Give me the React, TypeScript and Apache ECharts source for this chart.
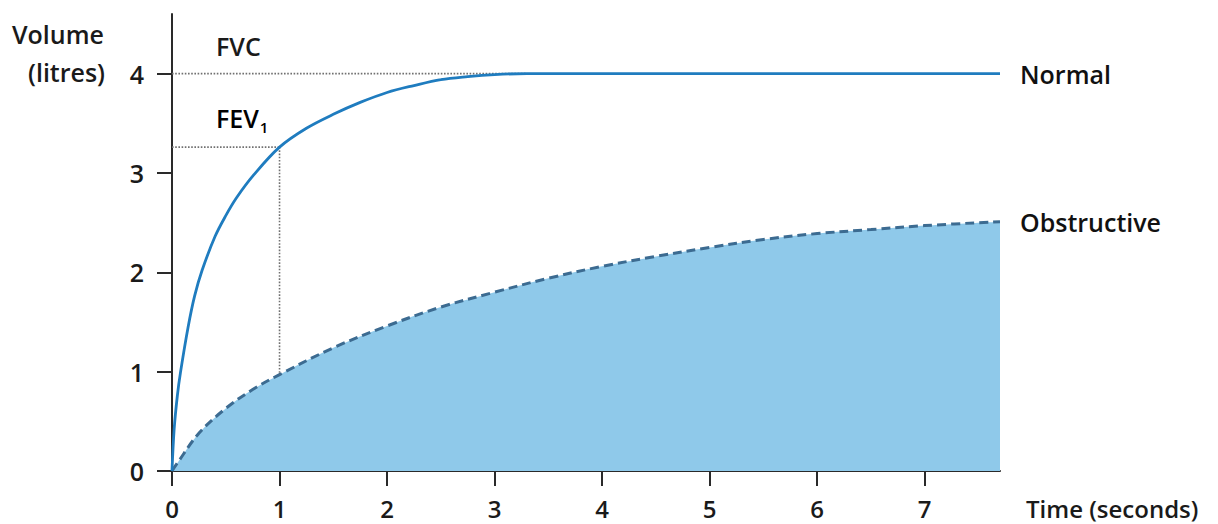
import React, { useEffect, useRef } from "react";
import * as echarts from "echarts";

const normalCurve: [number, number][] = [
  [0, 0], [0.02, 0.42], [0.05, 0.76], [0.08, 1.0], [0.15, 1.45], [0.21, 1.76],
  [0.28, 2.02], [0.4, 2.36], [0.5, 2.57], [0.6, 2.75], [0.76, 2.98], [1, 3.26],
  [1.25, 3.45], [1.5, 3.59], [1.75, 3.71], [2, 3.81], [2.25, 3.88], [2.5, 3.94],
  [2.75, 3.97], [3, 3.99], [3.3, 4], [4, 4], [5, 4], [6, 4], [7, 4], [7.7, 4],
];

const obstructiveCurve: [number, number][] = [
  [0, 0], [0.05, 0.08], [0.25, 0.38], [0.5, 0.63], [0.75, 0.82], [1, 0.97],
  [1.5, 1.24], [2, 1.46], [2.5, 1.65], [3, 1.8], [3.5, 1.94], [4, 2.06],
  [4.5, 2.16], [5, 2.25], [5.5, 2.33], [6, 2.39], [6.5, 2.43], [7, 2.47],
  [7.7, 2.51],
];

const fvcGuide: [number, number][] = [[0, 4], [3.3, 4]];
const fev1Horizontal: [number, number][] = [[0, 3.26], [1, 3.26]];
const fev1Vertical: [number, number][] = [[1, 3.26], [1, 0.97]];

const xTicks = [0, 1, 2, 3, 4, 5, 6, 7];
const yTicks = [0, 1, 2, 3, 4];
const xMax = 7.7;
const yMax = 4.6;

const FONT = "'Open Sans', 'Noto Sans', sans-serif";

export default function App() {
  const ref = useRef<HTMLDivElement>(null);

  useEffect(() => {
    if (!ref.current) return;
    const chart = echarts.init(ref.current, undefined, { renderer: "svg" });
    const axisColor = "#2a2a2a";
    const labelStyle = {
      fontFamily: FONT,
      fontWeight: 600 as any,
      fontSize: 25,
      color: "#1a1a1a",
    };
    const guideStyle = { color: "#707070", width: 1.6, type: "dotted" as const };

    chart.setOption({
      animation: false,
      backgroundColor: "#ffffff",
      grid: { left: 172, right: 218, top: 14, bottom: 53, containLabel: false },
      xAxis: {
        type: "value",
        min: 0,
        max: xMax,
        axisLine: { show: true, lineStyle: { color: axisColor, width: 2 } },
        axisTick: {
          show: true,
          customValues: xTicks,
          length: 15,
          lineStyle: { color: axisColor, width: 2 },
        },
        axisLabel: {
          ...labelStyle,
          fontSize: 24,
          lineHeight: 24,
          customValues: xTicks,
          margin: 25,
        },
        splitLine: { show: false },
      },
      yAxis: {
        type: "value",
        min: 0,
        max: yMax,
        axisLine: { show: true, lineStyle: { color: axisColor, width: 2 } },
        axisTick: {
          show: true,
          customValues: yTicks,
          length: 15,
          lineStyle: { color: axisColor, width: 2 },
        },
        axisLabel: { ...labelStyle, customValues: yTicks, margin: 28 },
        splitLine: { show: false },
      },
      series: [
        {
          name: "Obstructive",
          type: "line",
          data: obstructiveCurve,
          smooth: 0.35,
          showSymbol: false,
          symbol: "none",
          z: 2,
          lineStyle: { color: "#3c6b91", width: 3, type: [9, 5] },
          areaStyle: { color: "#8fc9ea", opacity: 1, origin: "start" },
          endLabel: {
            show: true,
            formatter: "Obstructive",
            distance: 20,
            ...labelStyle,
            color: "#111",
          },
        },
        {
          name: "FVC guide",
          type: "line",
          data: fvcGuide,
          showSymbol: false,
          symbol: "none",
          z: 3,
          lineStyle: guideStyle,
        },
        {
          name: "FEV1 horizontal",
          type: "line",
          data: fev1Horizontal,
          showSymbol: false,
          symbol: "none",
          z: 3,
          lineStyle: guideStyle,
        },
        {
          name: "FEV1 vertical",
          type: "line",
          data: fev1Vertical,
          showSymbol: false,
          symbol: "none",
          z: 3,
          lineStyle: guideStyle,
        },
        {
          name: "Normal",
          type: "line",
          data: normalCurve,
          smooth: 0.35,
          showSymbol: false,
          symbol: "none",
          z: 4,
          lineStyle: { color: "#1f7cbf", width: 2.8 },
          endLabel: {
            show: true,
            formatter: "Normal",
            distance: 20,
            ...labelStyle,
            color: "#111",
          },
        },
      ],
      graphic: [
        {
          type: "text",
          left: 12,
          top: 21,
          style: {
            text: "Volume",
            font: `600 25px ${FONT}`,
            fill: "#1a1a1a",
          },
        },
        {
          type: "text",
          left: 28,
          top: 59,
          style: {
            text: "(litres)",
            font: `600 25px ${FONT}`,
            fill: "#1a1a1a",
          },
        },
        {
          type: "text",
          left: 216,
          top: 33,
          style: {
            text: "FVC",
            font: `600 25px ${FONT}`,
            fill: "#1a1a1a",
          },
        },
        {
          type: "text",
          left: 216,
          top: 105,
          style: {
            text: "{a|FEV}{b|1}",
            rich: {
              a: { font: `600 25px ${FONT}`, color: "#1a1a1a" } as any,
              b: {
                font: `600 15px ${FONT}`,
                color: "#1a1a1a",
                padding: [18, 0, 0, 1],
              } as any,
            },
          },
        },
        {
          type: "text",
          left: 1026,
          top: 495,
          style: {
            text: "Time (seconds)",
            font: `600 24px ${FONT}`,
            lineHeight: 26,
            fill: "#1a1a1a",
          },
        },
      ],
    });

    return () => chart.dispose();
  }, []);

  return (
    <div
      ref={ref}
      style={{ position: "fixed", left: 0, top: 0, width: 1218, height: 524 }}
    />
  );
}
